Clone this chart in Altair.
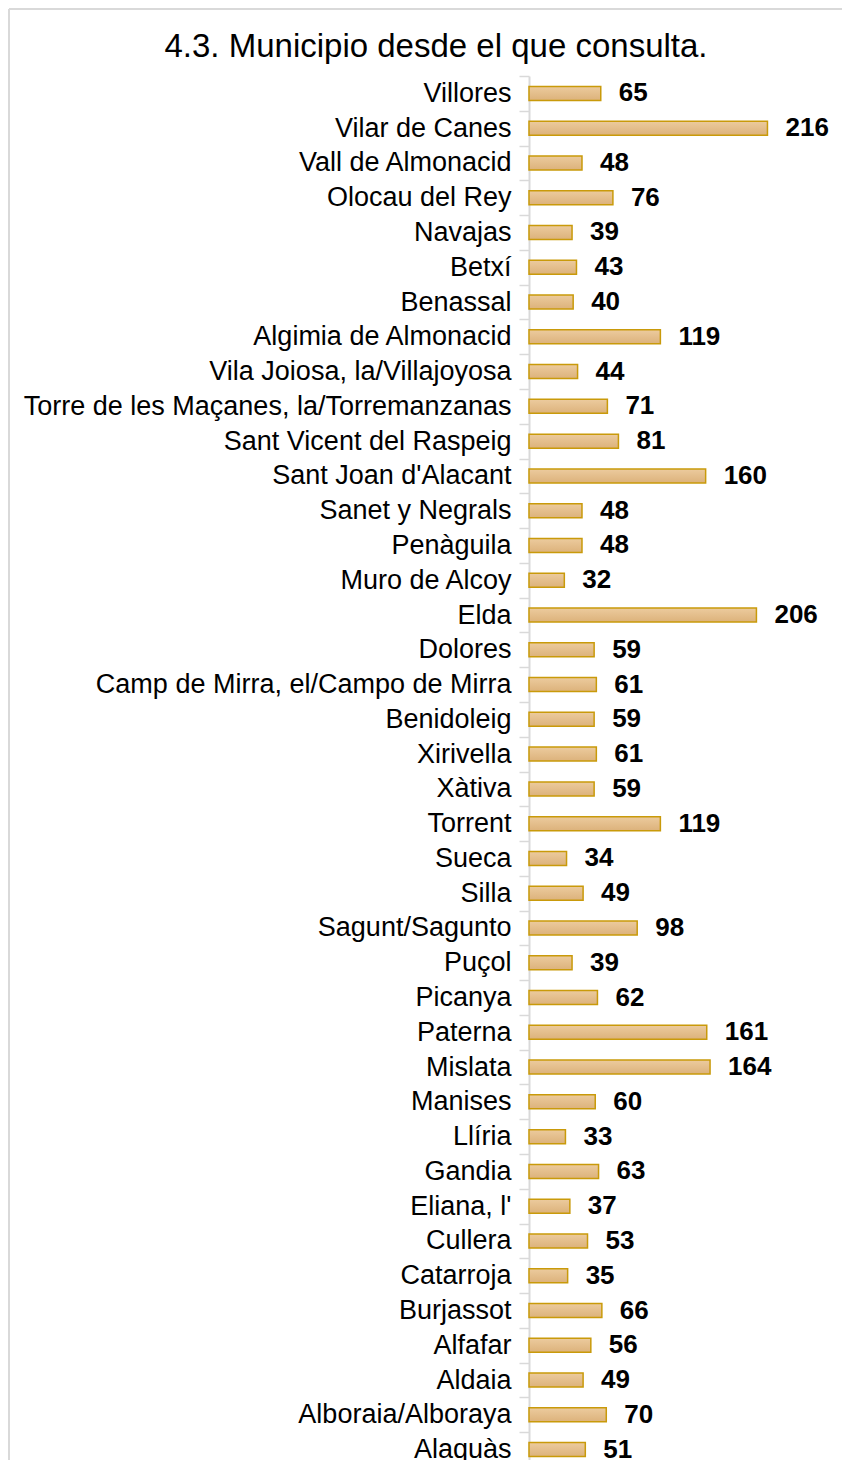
import altair as alt
import pandas as pd

municipios = [
    "Villores", "Vilar de Canes", "Vall de Almonacid", "Olocau del Rey", "Navajas",
    "Betxí", "Benassal", "Algimia de Almonacid", "Vila Joiosa, la/Villajoyosa",
    "Torre de les Maçanes, la/Torremanzanas", "Sant Vicent del Raspeig",
    "Sant Joan d'Alacant", "Sanet y Negrals", "Penàguila", "Muro de Alcoy", "Elda",
    "Dolores", "Camp de Mirra, el/Campo de Mirra", "Benidoleig", "Xirivella", "Xàtiva",
    "Torrent", "Sueca", "Silla", "Sagunt/Sagunto", "Puçol", "Picanya", "Paterna",
    "Mislata", "Manises", "Llíria", "Gandia", "Eliana, l'", "Cullera", "Catarroja",
    "Burjassot", "Alfafar", "Aldaia", "Alboraia/Alboraya", "Alaquàs",
]
consultas = [
    65, 216, 48, 76, 39, 43, 40, 119, 44, 71, 81, 160, 48, 48, 32, 206,
    59, 61, 59, 61, 59, 119, 34, 49, 98, 39, 62, 161, 164, 60, 33, 63,
    37, 53, 35, 66, 56, 49, 70, 51,
]
titulo = ["4.3. Municipio desde el que consulta."]

df = pd.DataFrame({"municipio": municipios, "valor": consultas})
df_title = pd.DataFrame({"t": titulo})

FONT = "Liberation Sans"
STEP = 34.775
N = len(municipios)
H = STEP * N

y_enc = alt.Y(
    "municipio:N",
    sort=None,
    scale=alt.Scale(paddingInner=0, paddingOuter=0),
    axis=alt.Axis(
        title=None,
        domainColor="#d9d9d9",
        domainWidth=2,
        tickColor="#d9d9d9",
        tickWidth=1.5,
        tickSize=10,
        tickBand="extent",
        labelPadding=8,
        labelFont=FONT,
        labelFontSize=27,
        labelColor="#000000",
        labelLimit=0,
    ),
)
x_enc = alt.X("valor:Q", scale=alt.Scale(domain=[0, 250]), axis=None)

bars = alt.Chart(df).mark_bar(
    size=14,
    color={
        "gradient": "linear",
        "x1": 0, "y1": 0, "x2": 0, "y2": 1,
        "stops": [
            {"offset": 0, "color": "#eccb9e"},
            {"offset": 1, "color": "#dcb27b"},
        ],
    },
    stroke="#c99a0a",
    strokeWidth=1.5,
).encode(x=x_enc, y=y_enc)

labels = alt.Chart(df).mark_text(
    align="left", baseline="middle", dx=18,
    font=FONT, fontSize=26, fontWeight="bold", color="#000000",
).encode(x=x_enc, y=y_enc, text="valor:Q")

title_mark = alt.Chart(df_title).mark_text(
    align="center", baseline="alphabetic",
    font=FONT, fontSize=33, color="#000000",
).encode(text="t:N", x=alt.value(-93), y=alt.value(-19))

border_left = alt.Chart(df_title).mark_rule(color="#d9d9d9", strokeWidth=2).encode(
    x=alt.value(-520), y=alt.value(-67), y2=alt.value(H)
)
border_top = alt.Chart(df_title).mark_rule(color="#d9d9d9", strokeWidth=2).encode(
    x=alt.value(-520), x2=alt.value(313), y=alt.value(-67)
)

chart = alt.layer(border_left, border_top, title_mark, bars, labels).properties(
    width=276,
    height=H,
    padding=0,
).configure_view(stroke=None)

chart.save("out.html", embed_options={"renderer": "svg", "actions": False})
